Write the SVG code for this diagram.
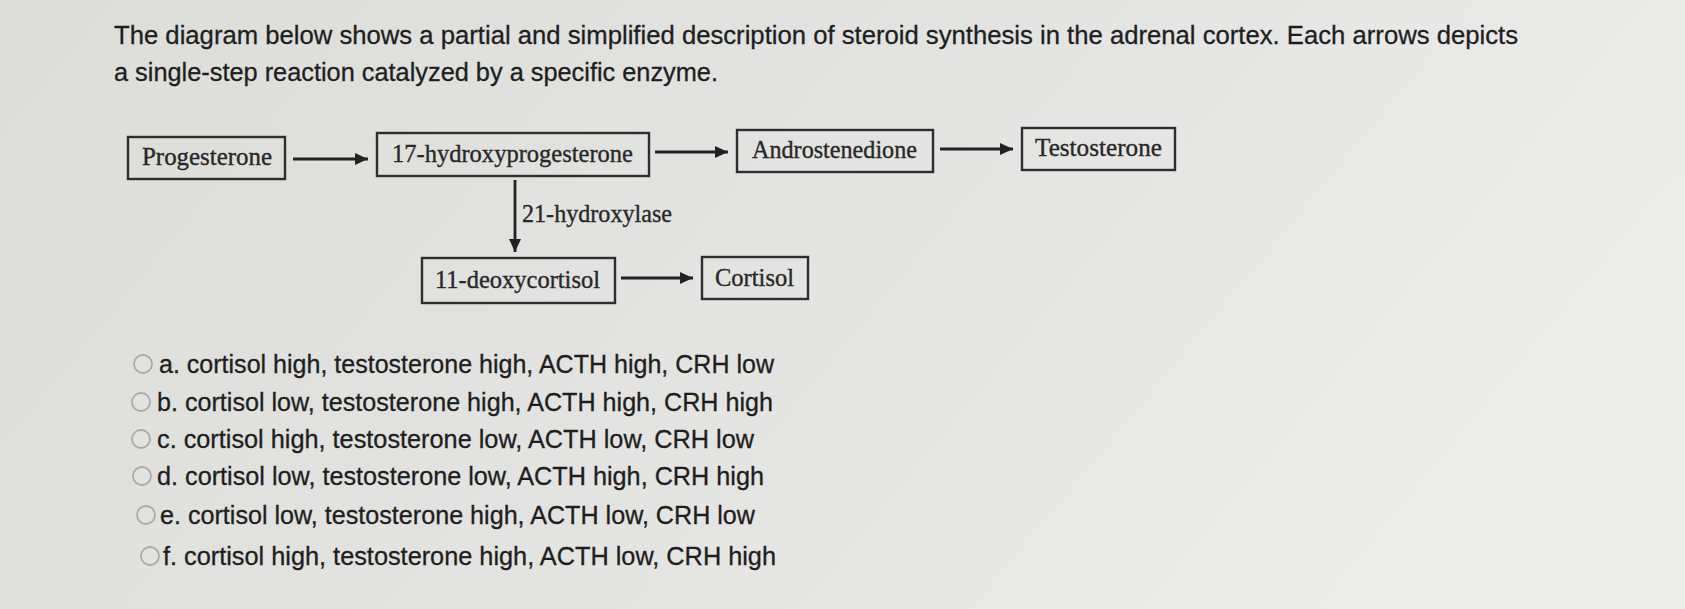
<svg xmlns="http://www.w3.org/2000/svg" width="1685" height="609" viewBox="0 0 1685 609">
<defs>
<linearGradient id="bg" x1="0" y1="0" x2="1" y2="0.3">
<stop offset="0" stop-color="#dcdcd9"/>
<stop offset="0.6" stop-color="#e4e4e2"/>
<stop offset="1" stop-color="#ececeb"/>
</linearGradient>
<marker id="ah" markerUnits="userSpaceOnUse" markerWidth="14" markerHeight="12" refX="13" refY="6" orient="auto">
<path d="M0,0 L13,6 L0,12 Z" fill="#222"/>
</marker>
<style>
.box{fill:none;stroke:#2e2e2e;stroke-width:2.4}
.lbl{font-family:"Liberation Serif","Times New Roman",serif;font-size:25px;fill:#282828;stroke:#282828;stroke-width:0.35}
.q{font-family:"Liberation Sans",Arial,sans-serif;font-size:26.5px;fill:#1e1e1e;stroke:#1e1e1e;stroke-width:0.3}
.opt{font-family:"Liberation Sans",Arial,sans-serif;font-size:25.5px;fill:#1e1e1e;stroke:#1e1e1e;stroke-width:0.3}
.conn{stroke:#222;stroke-width:2.8;fill:none;marker-end:url(#ah)}
.radio{fill:#e2e2e0;stroke:#aaaaa8;stroke-width:1.8}
</style>
</defs>
<rect width="1685" height="609" fill="url(#bg)"/>
<g id="question">
<text class="q" x="114" y="44" textLength="1404" lengthAdjust="spacingAndGlyphs">The diagram below shows a partial and simplified description of steroid synthesis in the adrenal cortex. Each arrows depicts</text>
<text class="q" x="114" y="81" textLength="604" lengthAdjust="spacingAndGlyphs">a single-step reaction catalyzed by a specific enzyme.</text>
</g>
<g id="connectors">
<line class="conn" x1="293" y1="159" x2="368" y2="159"/>
<line class="conn" x1="655" y1="152" x2="728" y2="152"/>
<line class="conn" x1="940" y1="149" x2="1013" y2="149"/>
<line class="conn" x1="515" y1="180" x2="515" y2="252"/>
<line class="conn" x1="621" y1="278" x2="693" y2="278"/>
<text class="lbl" x="522" y="222" textLength="150" lengthAdjust="spacingAndGlyphs">21-hydroxylase</text>
</g>
<g id="progesterone">
<rect class="box" x="128" y="137" width="157" height="42"/>
<text class="lbl" x="142" y="165" textLength="130" lengthAdjust="spacingAndGlyphs">Progesterone</text>
</g>
<g id="hydroxyprogesterone">
<rect class="box" x="377" y="133" width="272" height="43"/>
<text class="lbl" x="392" y="162" textLength="241" lengthAdjust="spacingAndGlyphs">17-hydroxyprogesterone</text>
</g>
<g id="androstenedione">
<rect class="box" x="737" y="130" width="196" height="42"/>
<text class="lbl" x="752" y="158" textLength="165" lengthAdjust="spacingAndGlyphs">Androstenedione</text>
</g>
<g id="testosterone">
<rect class="box" x="1022" y="128" width="153" height="42"/>
<text class="lbl" x="1035" y="156" textLength="127" lengthAdjust="spacingAndGlyphs">Testosterone</text>
</g>
<g id="deoxycortisol">
<rect class="box" x="422" y="258" width="193" height="45"/>
<text class="lbl" x="435" y="288" textLength="165" lengthAdjust="spacingAndGlyphs">11-deoxycortisol</text>
</g>
<g id="cortisol">
<rect class="box" x="702" y="257" width="106" height="42"/>
<text class="lbl" x="715" y="286" textLength="79" lengthAdjust="spacingAndGlyphs">Cortisol</text>
</g>
<g id="options">
<circle class="radio" cx="143" cy="364" r="9"/>
<text class="opt" x="159" y="373" textLength="615" lengthAdjust="spacingAndGlyphs">a. cortisol high, testosterone high, ACTH high, CRH low</text>
<circle class="radio" cx="141" cy="402" r="9"/>
<text class="opt" x="157" y="411" textLength="616" lengthAdjust="spacingAndGlyphs">b. cortisol low, testosterone high, ACTH high, CRH high</text>
<circle class="radio" cx="141" cy="439" r="9"/>
<text class="opt" x="157" y="448" textLength="597" lengthAdjust="spacingAndGlyphs">c. cortisol high, testosterone low, ACTH low, CRH low</text>
<circle class="radio" cx="142" cy="476" r="9"/>
<text class="opt" x="157" y="485" textLength="607" lengthAdjust="spacingAndGlyphs">d. cortisol low, testosterone low, ACTH high, CRH high</text>
<circle class="radio" cx="146" cy="515" r="9"/>
<text class="opt" x="160" y="524" textLength="595" lengthAdjust="spacingAndGlyphs">e. cortisol low, testosterone high, ACTH low, CRH low</text>
<circle class="radio" cx="150" cy="556" r="9"/>
<text class="opt" x="163" y="565" textLength="613" lengthAdjust="spacingAndGlyphs">f. cortisol high, testosterone high, ACTH low, CRH high</text>
</g>
</svg>
